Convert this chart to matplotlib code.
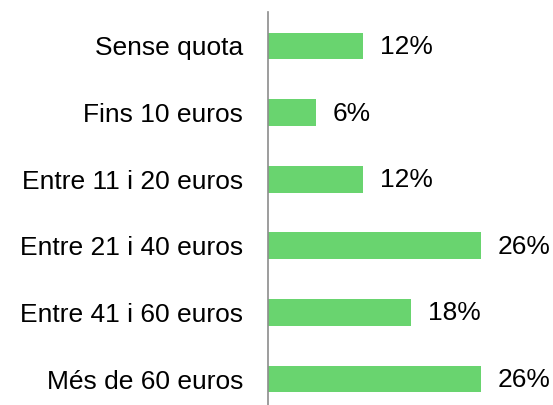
import matplotlib.pyplot as plt

plt.rcParams['font.family'] = ['Liberation Sans', 'DejaVu Sans']

categories = ['Sense quota', 'Fins 10 euros', 'Entre 11 i 20 euros',
              'Entre 21 i 40 euros', 'Entre 41 i 60 euros', 'Més de 60 euros']
values = [12.0, 6.0, 12.0, 26.9, 18.0, 26.9]
labels = ['12%', '6%', '12%', '26%', '18%', '26%']

W, H = 553, 405
fig = plt.figure(figsize=(W / 100, H / 100), dpi=100)
ax = fig.add_axes([268 / W, 0, (W - 268) / W, (H - 12) / H])

y = range(len(categories))
ax.barh(y, values, height=0.4, color='#69d46f')
ax.set_ylim(5.39, -0.51)
ax.set_xlim(0, 36)

for yi, v, lab in zip(y, values, labels):
    ax.annotate(lab, (v, yi), xytext=(17, -1), textcoords='offset pixels',
                va='center', ha='left', fontsize=19)

ax.set_yticks(list(y))
ax.set_yticklabels(categories, fontsize=19)
ax.tick_params(axis='y', length=0, pad=18)
ax.set_xticks([])
for s in ['top', 'right', 'bottom']:
    ax.spines[s].set_visible(False)
ax.spines['left'].set_color('#8c8c8c')
ax.spines['left'].set_linewidth(1.2)

fig.savefig('out.png', dpi=100)
